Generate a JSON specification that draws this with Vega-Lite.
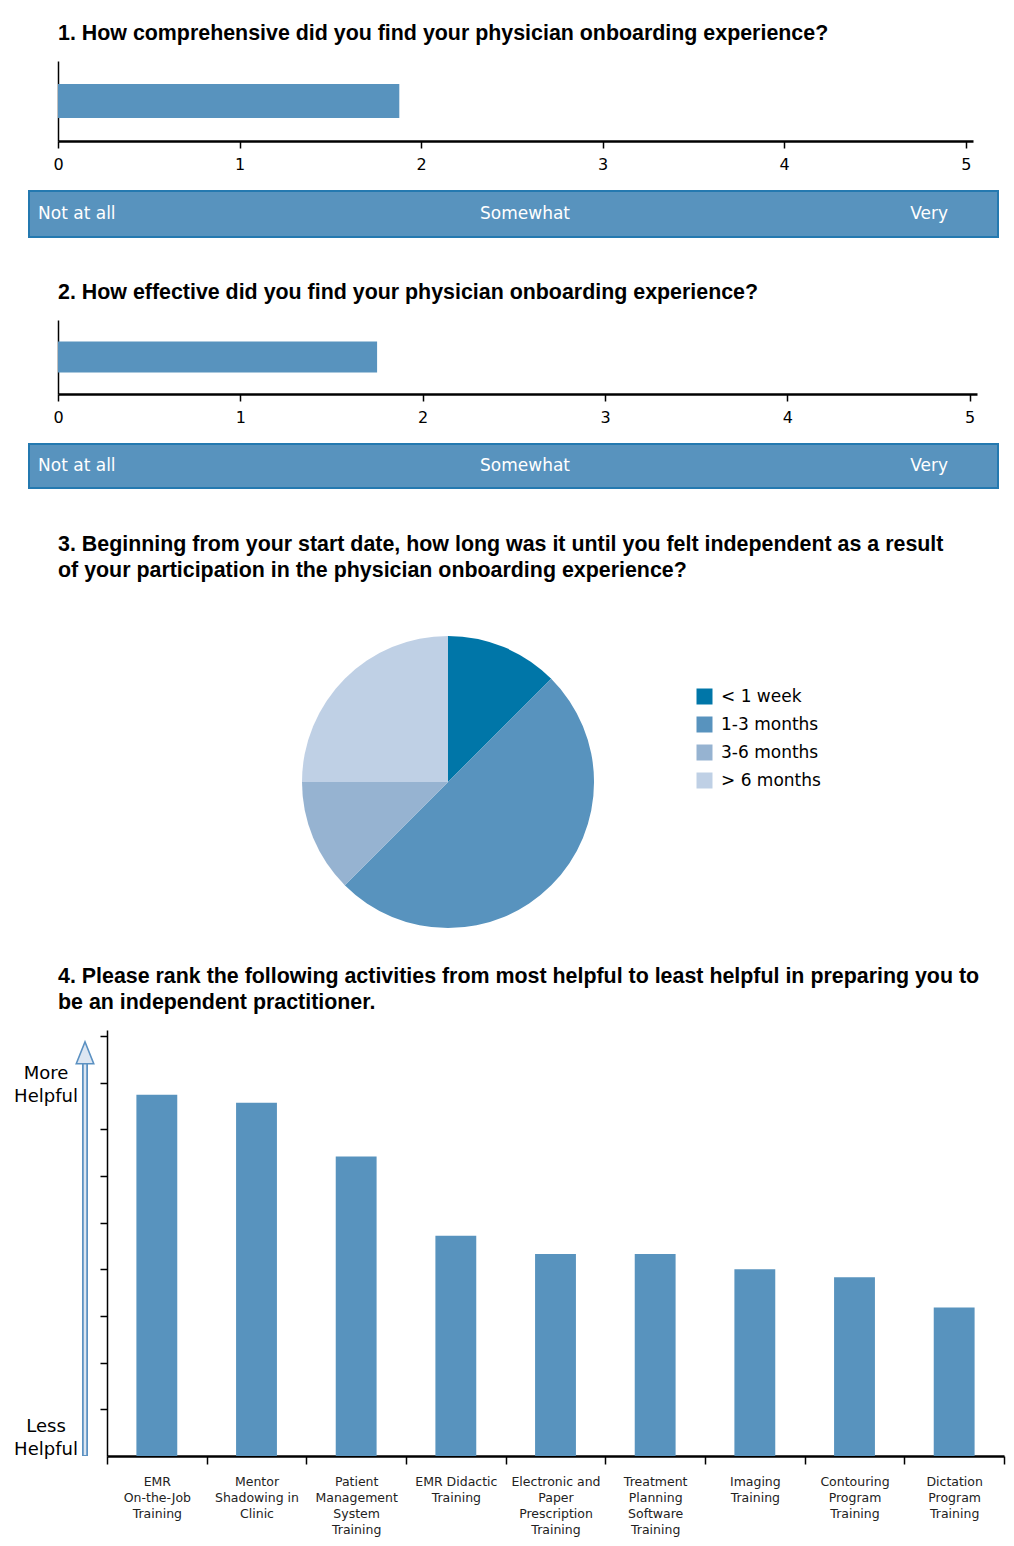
{
  "$schema": "https://vega.github.io/schema/vega-lite/v6.json",
  "background": "white",
  "padding": {"left": 14, "top": 22, "right": 4, "bottom": 4},
  "columns": 1,
  "spacing": 30,
  "resolve": {"legend": {"color": "independent"}},
  "config": {
    "font": "DejaVu Sans",
    "view": {"stroke": null},
    "axis": {"domainColor": "black", "tickColor": "black", "labelColor": "black", "grid": false},
    "title": {"color": "black", "font": "Liberation Sans", "fontWeight": "bold", "fontSize": 21.4, "anchor": "start"}
  },
  "concat": [
    {
      "columns": 1,
      "spacing": 18,
      "concat": [
        {
          "title": {"text": "1. How comprehensive did you find your physician onboarding experience?", "offset": 17, "frame": "group", "dx": 29},
          "width": 944,
          "height": 80,
          "data": {"values": [{"question": "Comprehensiveness", "mean_score": 1.88}]},
          "mark": {"type": "bar", "color": "#5893BE"},
          "encoding": {
            "y": {"field": "question", "type": "nominal", "scale": {"paddingInner": 0, "paddingOuter": 0.68}, "axis": {"title": null, "labels": false, "ticks": false, "domainWidth": 1.5, "offset": -29, "minExtent": 0}},
            "x": {"field": "mean_score", "type": "quantitative", "scale": {"domain": [0, 5.04], "nice": false, "range": [29, 944]}, "axis": {"title": null, "values": [0, 1, 2, 3, 4, 5], "labelFlush": false, "domainWidth": 2.5, "tickSize": 7, "tickWidth": 1.5, "labelFontSize": 16, "labelPadding": 8}}
          }
        },
        {
          "width": 969,
          "height": 46,
          "view": {"fill": "#5893BE", "stroke": "#2479B0", "strokeWidth": 2},
          "data": {"values": [{"anchor": "Not at all", "rating": 0}, {"anchor": "Somewhat", "rating": 2.5}, {"anchor": "Very", "rating": 5}]},
          "mark": {"type": "text", "color": "white", "fontSize": 17, "baseline": "middle", "align": {"expr": "datum.rating == 0 ? 'left' : datum.rating == 5 ? 'right' : 'center'"}, "dx": {"expr": "datum.rating == 0 ? -20 : datum.rating == 5 ? -18 : 13"}},
          "encoding": {
            "x": {"field": "rating", "type": "quantitative", "scale": {"domain": [-0.16, 5.176], "nice": false, "zero": false}, "axis": {"title": null, "labels": false, "ticks": false, "domain": false, "minExtent": 13}},
            "y": {"datum": 0, "type": "quantitative", "scale": {"domain": [-1, 1]}, "axis": null},
            "text": {"field": "anchor"}
          }
        }
      ]
    },
    {
      "columns": 1,
      "spacing": 18,
      "concat": [
        {
          "title": {"text": "2. How effective did you find your physician onboarding experience?", "offset": 17, "frame": "group", "dx": 29},
          "width": 948,
          "height": 74,
          "data": {"values": [{"question": "Effectiveness", "mean_score": 1.75}]},
          "mark": {"type": "bar", "color": "#5893BE"},
          "encoding": {
            "y": {"field": "question", "type": "nominal", "scale": {"paddingInner": 0, "paddingOuter": 0.694}, "axis": {"title": null, "labels": false, "ticks": false, "domainWidth": 1.5, "offset": -29, "minExtent": 0}},
            "x": {"field": "mean_score", "type": "quantitative", "scale": {"domain": [0, 5.04], "nice": false, "range": [29, 948]}, "axis": {"title": null, "values": [0, 1, 2, 3, 4, 5], "labelFlush": false, "domainWidth": 2.5, "tickSize": 7, "tickWidth": 1.5, "labelFontSize": 16, "labelPadding": 8}}
          }
        },
        {
          "width": 969,
          "height": 44,
          "view": {"fill": "#5893BE", "stroke": "#2479B0", "strokeWidth": 2},
          "data": {"values": [{"anchor": "Not at all", "rating": 0}, {"anchor": "Somewhat", "rating": 2.5}, {"anchor": "Very", "rating": 5}]},
          "mark": {"type": "text", "color": "white", "fontSize": 17, "baseline": "middle", "align": {"expr": "datum.rating == 0 ? 'left' : datum.rating == 5 ? 'right' : 'center'"}, "dx": {"expr": "datum.rating == 0 ? -20 : datum.rating == 5 ? -18 : 13"}},
          "encoding": {
            "x": {"field": "rating", "type": "quantitative", "scale": {"domain": [-0.16, 5.176], "nice": false, "zero": false}, "axis": {"title": null, "labels": false, "ticks": false, "domain": false, "minExtent": 14}},
            "y": {"datum": 0, "type": "quantitative", "scale": {"domain": [-1, 1]}, "axis": null},
            "text": {"field": "anchor"}
          }
        }
      ]
    },
    {
      "title": {"text": ["3. Beginning from your start date, how long was it until you felt independent as a result", "of your participation in the physician onboarding experience?"], "lineHeight": 26, "dx": 29, "offset": 48, "frame": "group"},
      "width": 838,
      "height": 306,
      "data": {"values": [
        {"time_to_independence": "< 1 week", "share": 12.5, "rank": 1},
        {"time_to_independence": "1-3 months", "share": 50, "rank": 2},
        {"time_to_independence": "3-6 months", "share": 12.5, "rank": 3},
        {"time_to_independence": "> 6 months", "share": 25, "rank": 4}
      ]},
      "mark": {"type": "arc", "outerRadius": 146},
      "encoding": {
        "theta": {"field": "share", "type": "quantitative", "stack": true},
        "order": {"field": "rank", "type": "quantitative"},
        "color": {"field": "time_to_independence", "type": "nominal",
          "scale": {"domain": ["< 1 week", "1-3 months", "3-6 months", "> 6 months"], "range": ["#0076A8", "#5893BE", "#96B3D1", "#BFD0E5"]},
          "legend": {"title": null, "orient": "none", "legendX": 667, "legendY": 59, "symbolType": "square", "symbolSize": 256, "symbolStrokeWidth": 0, "labelFontSize": 17, "labelColor": "black", "rowPadding": 10, "labelOffset": 8}}
      }
    },
    {
      "title": {"text": ["4. Please rank the following activities from most helpful to least helpful in preparing you to", "be an independent practitioner."], "lineHeight": 26, "dx": 29, "offset": 17, "frame": "group"},
      "spacing": 2,
      "hconcat": [
        {
          "width": 61,
          "height": 426,
          "data": {"values": [{"more": "More Helpful", "less": "Less Helpful"}]},
          "encoding": {
            "x": {"datum": -0.443, "type": "quantitative", "scale": {"domain": [-1, 1]}, "axis": null}
          },
          "layer": [
            {
              "mark": {"type": "text", "fontSize": 18, "lineHeight": 23, "lineBreak": " ", "baseline": "middle", "align": "center", "color": "black"},
              "encoding": {
                "y": {"datum": 8.19, "type": "quantitative", "scale": {"domain": [0, 9.13], "nice": false}, "axis": null},
                "text": {"field": "more"}
              }
            },
            {
              "mark": {"type": "text", "fontSize": 18, "lineHeight": 23, "lineBreak": " ", "baseline": "middle", "align": "center", "color": "black"},
              "encoding": {
                "y": {"datum": 0.62, "type": "quantitative"},
                "text": {"field": "less"}
              }
            },
            {
              "mark": {"type": "rule", "color": "#5B91C2", "strokeWidth": 6},
              "encoding": {
                "x": {"datum": 0.836, "type": "quantitative"},
                "y": {"datum": 0, "type": "quantitative"},
                "y2": {"datum": 8.5}
              }
            },
            {
              "mark": {"type": "rule", "color": "#DCE6F2", "strokeWidth": 2.5},
              "encoding": {
                "x": {"datum": 0.836, "type": "quantitative"},
                "y": {"datum": 0.02, "type": "quantitative"},
                "y2": {"datum": 8.5}
              }
            },
            {
              "mark": {"type": "point", "shape": "M-0.8,1L0,-1L0.8,1Z", "size": 484, "filled": true, "fill": "#DCE6F2", "stroke": "#5B91C2", "strokeWidth": 1.5, "opacity": 1},
              "encoding": {
                "x": {"datum": 0.836, "type": "quantitative"},
                "y": {"datum": 8.64, "type": "quantitative"}
              }
            }
          ]
        },
        {
          "width": 897,
          "height": 426,
          "data": {"values": [
            {"activity": "EMR On-the-Job Training", "helpfulness": 7.74},
            {"activity": "Mentor Shadowing in Clinic", "helpfulness": 7.57},
            {"activity": "Patient Management System Training", "helpfulness": 6.42},
            {"activity": "EMR Didactic Training", "helpfulness": 4.72},
            {"activity": "Electronic and Paper Prescription Training", "helpfulness": 4.33},
            {"activity": "Treatment Planning Software Training", "helpfulness": 4.33},
            {"activity": "Imaging Training", "helpfulness": 4.0},
            {"activity": "Contouring Program Training", "helpfulness": 3.83},
            {"activity": "Dictation Program Training", "helpfulness": 3.18}
          ]},
          "mark": {"type": "bar", "color": "#5893BE", "width": {"band": 0.41}},
          "encoding": {
            "x": {"field": "activity", "type": "nominal", "sort": null, "scale": {"paddingInner": 0, "paddingOuter": 0},
              "axis": {"title": null, "labelAngle": 0, "tickBand": "extent", "tickSize": 8, "tickWidth": 1.5, "domainWidth": 2.5, "labelFontSize": 12.5, "labelLineHeight": 16, "labelPadding": 11, "labelLimit": 0, "labelColor": "#222222",
                "labelExpr": "datum.label == 'EMR On-the-Job Training' ? ['EMR','On-the-Job','Training'] : datum.label == 'Mentor Shadowing in Clinic' ? ['Mentor','Shadowing in','Clinic'] : datum.label == 'Patient Management System Training' ? ['Patient','Management','System','Training'] : datum.label == 'EMR Didactic Training' ? ['EMR Didactic','Training'] : datum.label == 'Electronic and Paper Prescription Training' ? ['Electronic and','Paper','Prescription','Training'] : datum.label == 'Treatment Planning Software Training' ? ['Treatment','Planning','Software','Training'] : datum.label == 'Imaging Training' ? ['Imaging','Training'] : datum.label == 'Contouring Program Training' ? ['Contouring','Program','Training'] : datum.label == 'Dictation Program Training' ? ['Dictation','Program','Training'] : ''"}},
            "y": {"field": "helpfulness", "type": "quantitative", "scale": {"domain": [0, 9.13], "nice": false},
              "axis": {"title": null, "values": [1, 2, 3, 4, 5, 6, 7, 8, 9], "labels": false, "tickSize": 7, "tickWidth": 1.5, "domainWidth": 1.5, "minExtent": 7, "maxExtent": 7}}
          }
        }
      ]
    }
  ]
}
